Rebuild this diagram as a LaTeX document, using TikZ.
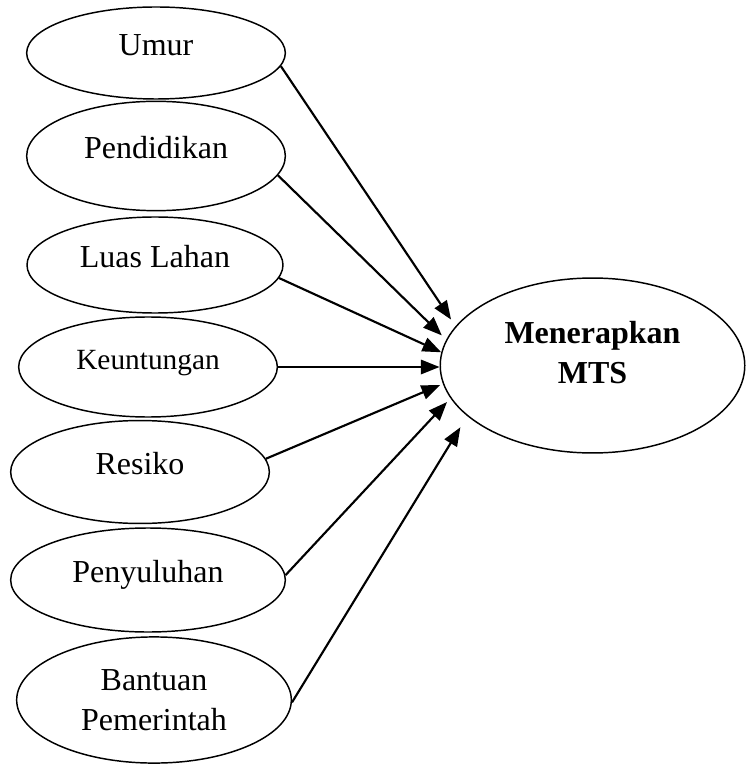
\documentclass[tikz,border=0pt]{standalone}
\usepackage{fontspec}
\setmainfont{Liberation Serif}
\usetikzlibrary{shapes, arrows.meta}

\begin{document}
\begin{tikzpicture}[
        x=0.375pt, y=-0.375pt,
        factor/.style={ellipse, draw, line width=0.55pt, inner sep=0pt, align=center, font=\fontsize{12}{15}\selectfont, minimum width=97pt, minimum height=36pt},
        oneline/.style={text height=9pt, text depth=7pt},
        target/.style={ellipse, draw, line width=0.55pt, inner sep=0pt, minimum width=114.2pt, minimum height=65.6pt},
        arrow/.style={line width=0.8pt, -{Triangle[length=7pt, width=5.4pt]}}
    ]
    \useasboundingbox (0,0) rectangle (745,765);

    % Factors
    \node [factor, oneline, minimum height=34.5pt] (umur) at (156,53) {Umur};
    \node [factor, oneline, minimum height=41pt] (pendidikan) at (156,156) {Pendidikan};
    \node [factor, oneline, minimum width=96pt] (luas) at (155,265) {Luas Lahan};
    \node [factor, oneline, minimum height=37.5pt, font=\fontsize{11}{13}\selectfont] (untung) at (148,367) {Keuntungan};
    \node [factor, oneline, minimum height=38.6pt] (resiko) at (140,472) {Resiko};
    \node [factor, oneline, minimum width=103pt, minimum height=39pt] (suluh) at (148,580) {Penyuluhan};
    \node [factor, minimum width=103pt, minimum height=47.3pt] (bantuan) at (154,700) {Bantuan\\Pemerintah};

    % Outcome
    \node [target, label={[font=\fontsize{12}{15}\selectfont\bfseries, align=center, yshift=5pt]center:{Menerapkan\\MTS}}] (mts) at (592.5,365.5) {};

    % Connecting Lines
    \draw [arrow, shorten >=3pt] (umur.-6) -- (mts.164);
    \draw [arrow, shorten >=2.3pt] (pendidikan.-9) -- (mts.170);
    \draw [arrow] (luas.-6) -- (mts.175);
    \draw [arrow] (untung.east) -- (untung.east -| mts.west);
    \draw [arrow, shorten >=1.1pt] (resiko.6) -- (mts.187);
    \draw [arrow, shorten >=1.9pt] (suluh.2) -- (mts.193);
    \draw [arrow, shorten >=4.9pt] (bantuan.-1) -- (mts.202);

\end{tikzpicture}
\end{document}
